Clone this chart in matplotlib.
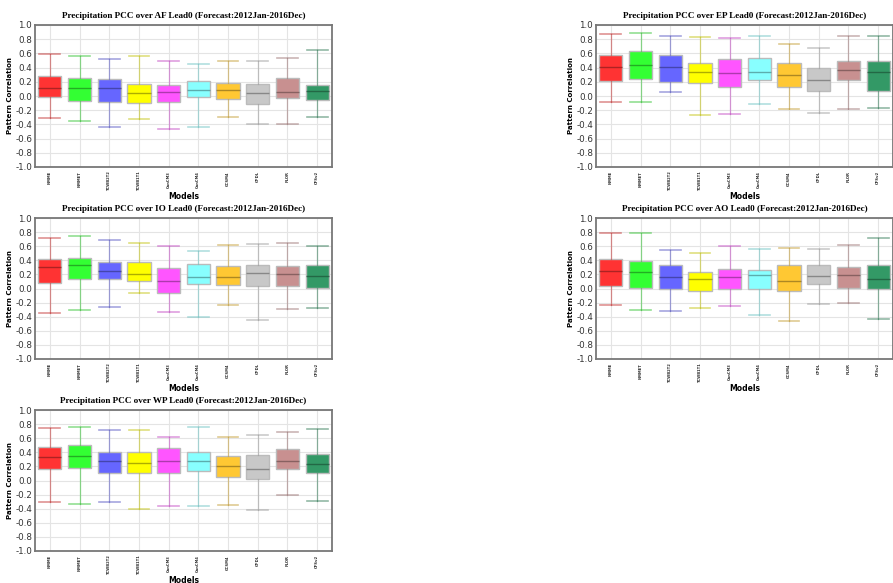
import matplotlib
matplotlib.use('Agg')
import matplotlib.pyplot as plt
from matplotlib.colors import to_rgb

models = ['NMME', 'NMMET', 'TCWB2T2', 'TCWB1T1', 'CanCM3',
          'CanCM4', 'CCSM4', 'GFDL', 'FLOR', 'CFSv2']
colors = ['#ff3333', '#33ff33', '#6666ff', '#ffff00', '#ff55ff',
          '#88ffff', '#ffc833', '#c8c8c8', '#c89090', '#339966']

# per region: [low whisker, q1, median, q3, high whisker] for each model
af = [[-0.31, -0.01, 0.11, 0.28, 0.59], [-0.35, -0.07, 0.11, 0.26, 0.56],
      [-0.44, -0.08, 0.11, 0.24, 0.52], [-0.32, -0.10, 0.04, 0.17, 0.56],
      [-0.47, -0.09, 0.06, 0.16, 0.49], [-0.44, -0.02, 0.08, 0.21, 0.45],
      [-0.30, -0.04, 0.08, 0.19, 0.49], [-0.39, -0.11, 0.04, 0.17, 0.50],
      [-0.39, -0.03, 0.06, 0.25, 0.53], [-0.29, -0.05, 0.07, 0.15, 0.65]]
ep = [[-0.08, 0.21, 0.41, 0.58, 0.88], [-0.09, 0.24, 0.43, 0.63, 0.89],
      [0.05, 0.20, 0.41, 0.58, 0.84], [-0.27, 0.19, 0.34, 0.47, 0.83],
      [-0.25, 0.13, 0.32, 0.52, 0.81], [-0.11, 0.23, 0.34, 0.53, 0.85],
      [-0.18, 0.12, 0.30, 0.47, 0.73], [-0.24, 0.07, 0.23, 0.40, 0.67],
      [-0.18, 0.22, 0.36, 0.50, 0.84], [-0.17, 0.07, 0.34, 0.49, 0.84]]
io = [[-0.35, 0.08, 0.30, 0.42, 0.71], [-0.30, 0.13, 0.33, 0.43, 0.75],
      [-0.26, 0.13, 0.25, 0.38, 0.69], [-0.06, 0.10, 0.21, 0.37, 0.64],
      [-0.34, -0.07, 0.10, 0.29, 0.60], [-0.40, 0.06, 0.17, 0.35, 0.53],
      [-0.23, 0.05, 0.16, 0.32, 0.61], [-0.45, 0.04, 0.22, 0.33, 0.63],
      [-0.29, 0.03, 0.20, 0.32, 0.64], [-0.28, 0.01, 0.18, 0.33, 0.60]]
ao = [[-0.23, 0.03, 0.25, 0.42, 0.79], [-0.30, 0.01, 0.24, 0.39, 0.79],
      [-0.32, 0.00, 0.17, 0.33, 0.54], [-0.28, -0.04, 0.14, 0.23, 0.51],
      [-0.25, -0.01, 0.17, 0.28, 0.60], [-0.37, 0.00, 0.19, 0.26, 0.56],
      [-0.46, -0.04, 0.11, 0.33, 0.57], [-0.22, 0.06, 0.18, 0.33, 0.56],
      [-0.20, 0.01, 0.19, 0.30, 0.61], [-0.43, 0.00, 0.13, 0.34, 0.72]]
wp = [[-0.31, 0.16, 0.34, 0.48, 0.75], [-0.33, 0.18, 0.35, 0.50, 0.76],
      [-0.31, 0.10, 0.27, 0.41, 0.71], [-0.41, 0.11, 0.25, 0.41, 0.72],
      [-0.36, 0.11, 0.27, 0.46, 0.62], [-0.36, 0.13, 0.28, 0.40, 0.76],
      [-0.35, 0.05, 0.21, 0.35, 0.61], [-0.42, 0.02, 0.16, 0.36, 0.65],
      [-0.20, 0.16, 0.27, 0.45, 0.69], [-0.29, 0.10, 0.23, 0.38, 0.73]]

regions = ['AF', 'EP', 'IO', 'AO', 'WP']
region_data = [af, ep, io, ao, wp]

# axes rectangles in figure fraction [left, bottom, width, height]
W, H = 893, 583
def rect(x0, y0, x1, y1):
    return [x0 / W, 1 - y1 / H, (x1 - x0) / W, (y1 - y0) / H]

positions = [rect(35, 25, 332, 167), rect(596, 25, 893, 167),
             rect(35, 218, 332, 359), rect(596, 218, 893, 359),
             rect(35, 410, 332, 551)]

def darker(c, f=0.6):
    r, g, b = to_rgb(c)
    return (r * f, g * f, b * f)

fig = plt.figure(figsize=(W / 100, H / 100), dpi=100)

for reg, data, pos in zip(regions, region_data, positions):
    ax = fig.add_axes(pos)
    ax.set_axisbelow(True)
    ax.grid(True, color='#e4e4e4', lw=0.8)
    for i, (vals, c) in enumerate(zip(data, colors)):
        lo, q1, med, q3, hi = vals
        st = [dict(whislo=lo, q1=q1, med=med, q3=q3, whishi=hi, fliers=[])]
        ax.bxp(st, positions=[i + 1], widths=0.78, capwidths=0.7,
               patch_artist=True, showfliers=False,
               boxprops=dict(facecolor=c, edgecolor='#bbbbbb', lw=1.0),
               whiskerprops=dict(color=darker(c, 0.75), alpha=0.5, lw=0.9),
               capprops=dict(color=darker(c, 0.75), alpha=0.5, lw=1.2),
               medianprops=dict(color=darker(c, 0.6), lw=1.0, alpha=0.8))
    ax.set_xlim(0.5, 10.5)
    ax.set_ylim(-1.0, 1.0)
    ax.set_yticks([-1.0 + 0.2 * k for k in range(11)])
    ax.set_yticklabels([f'{-1.0 + 0.2 * k:.1f}' for k in range(11)])
    ax.set_xticks(range(1, 11))
    ax.set_xticklabels(models, rotation=90, fontsize=2.7, fontweight='bold',
                       color='#333333')
    ax.tick_params(axis='y', labelsize=6.3, length=0, pad=2, labelcolor='#333333')
    ax.tick_params(axis='x', length=0, pad=3)
    for s in ax.spines.values():
        s.set_color('#777777')
        s.set_linewidth(1.3)
    ax.set_title(f'Precipitation PCC over {reg} Lead0 (Forecast:2012Jan-2016Dec)',
                 fontsize=6.6, fontweight='bold', family='Liberation Serif', pad=5)
    ax.set_ylabel('Pattern Correlation', fontsize=5, fontweight='bold')
    ax.yaxis.set_label_coords(-0.075, 0.5)
    ax.set_xlabel('Models', fontsize=5.5, fontweight='bold')
    ax.xaxis.set_label_coords(0.5, -0.175)

fig.savefig('out.png', dpi=100)
